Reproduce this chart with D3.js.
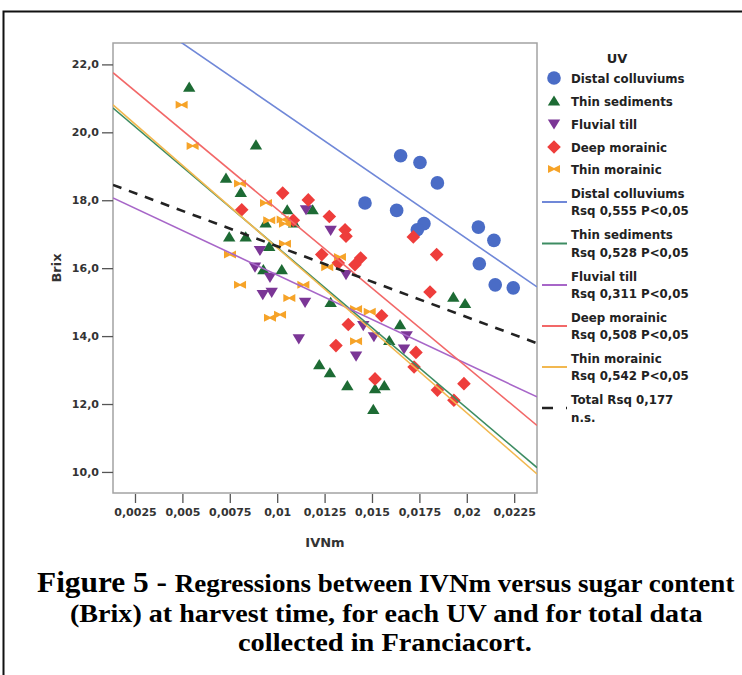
<!DOCTYPE html>
<html>
<head>
<meta charset="utf-8">
<script src="https://cdn.jsdelivr.net/npm/d3@7"></script>
<style>
  body { margin: 0; background: #fff; }
  svg { display: block; }
</style>
</head>
<body>
<svg id="chart" width="742" height="675"></svg>
<script>
// ---- axis ticks ----
const xTicks = [0.0025, 0.005, 0.0075, 0.01, 0.0125, 0.015, 0.0175, 0.02, 0.0225];
const xTickLabels = ["0,0025", "0,005", "0,0075", "0,01", "0,0125", "0,015", "0,0175", "0,02", "0,0225"];
const yTicks = [10, 12, 14, 16, 18, 20, 22];
const yTickLabels = ["10,0", "12,0", "14,0", "16,0", "18,0", "20,0", "22,0"];

// ---- UV groups ----
const groups = ["Distal colluviums", "Thin sediments", "Fluvial till", "Deep morainic", "Thin morainic"];

// IVNm, Brix pairs per UV
const distalColluviums = [
  [0.01651, 19.31], [0.01753, 19.11], [0.01845, 18.51], [0.01463, 17.92],
  [0.01630, 17.70], [0.01774, 17.31], [0.01739, 17.13], [0.02061, 17.21],
  [0.02143, 16.82], [0.02066, 16.13], [0.02150, 15.51], [0.02245, 15.42]
];
const thinSediments = [
  [0.00536, 21.33], [0.00888, 19.63], [0.00730, 18.65], [0.00808, 18.23],
  [0.01053, 17.72], [0.01187, 17.72], [0.00939, 17.33], [0.01089, 17.33],
  [0.00747, 16.92], [0.00834, 16.92], [0.00958, 16.64], [0.00927, 15.96],
  [0.01024, 15.96], [0.01282, 14.99], [0.01929, 15.15], [0.01991, 14.96],
  [0.01648, 14.34], [0.01591, 13.87], [0.01222, 13.16], [0.01278, 12.92],
  [0.01370, 12.54], [0.01516, 12.45], [0.01565, 12.54], [0.01507, 11.84]
];
const fluvialTill = [
  [0.01152, 17.72], [0.01282, 17.11], [0.00909, 16.52], [0.00883, 16.03],
  [0.00962, 15.73], [0.01363, 15.81], [0.00924, 15.22], [0.00971, 15.29],
  [0.01147, 14.99], [0.01114, 13.92], [0.01454, 14.31], [0.01510, 13.98],
  [0.01683, 14.01], [0.01669, 13.62], [0.01416, 13.41]
];
const deepMorainic = [
  [0.01029, 18.21], [0.01164, 18.01], [0.00813, 17.72], [0.01085, 17.41],
  [0.01275, 17.52], [0.01358, 17.13], [0.01363, 16.94], [0.01718, 16.92],
  [0.01235, 16.40], [0.01322, 16.15], [0.01440, 16.30], [0.01410, 16.10],
  [0.01841, 16.40], [0.01806, 15.30], [0.01551, 14.60], [0.01375, 14.34],
  [0.01310, 13.72], [0.01732, 13.52], [0.01722, 13.09], [0.01516, 12.74],
  [0.01985, 12.60], [0.01845, 12.41], [0.01932, 12.11]
];
const thinMorainic = [
  [0.00496, 20.81], [0.00554, 19.60], [0.00804, 18.49], [0.00941, 17.92],
  [0.00958, 17.41], [0.01029, 17.43], [0.01041, 17.31], [0.01041, 16.72],
  [0.00751, 16.40], [0.01331, 16.33], [0.01264, 16.03], [0.00804, 15.51],
  [0.01138, 15.51], [0.01064, 15.12], [0.00962, 14.54], [0.01015, 14.63],
  [0.01416, 14.80], [0.01488, 14.72], [0.01416, 13.85]
];
const groupPoints = [distalColluviums, thinSediments, fluvialTill, deepMorainic, thinMorainic];

// linear fits per UV: Brix = intercept + slope * IVNm
const fitIntercepts = [24.54, 21.35, 18.42, 22.38, 21.46];
const fitSlopes = [-383.5, -473.5, -262.0, -464.5, -486.0];
const fitRsq = ["0,555", "0,528", "0,311", "0,508", "0,542"];
// fit over all data
const totalIntercept = 18.73;
const totalSlope = -208.5;
const totalRsq = "0,177";

// ---- styling ----
const markerFill = ["#4a6cc6", "#1d6b34", "#7b3696", "#ee3d3b", "#f6a328"];
const lineColor  = ["#7088d8", "#3d8c62", "#a766c8", "#f26868", "#f2b850"];
const axisFont = "'DejaVu Sans', Verdana, sans-serif";

const svg = d3.select("#chart");

// outer frame
svg.append("rect")
  .attr("x", 3.5).attr("y", 11.5).attr("width", 800).attr("height", 800)
  .attr("fill", "none").attr("stroke", "#111").attr("stroke-width", 2);

// plot region
const plot = { left: 113, top: 43, right: 537, bottom: 493 };
const x = d3.scaleLinear().domain([0.00134, 0.023703]).range([plot.left, plot.right]);
const y = d3.scaleLinear().domain([9.38, 22.63]).range([plot.bottom, plot.top]);

svg.append("defs").append("clipPath").attr("id", "plotClip")
  .append("rect")
  .attr("x", plot.left).attr("y", plot.top)
  .attr("width", plot.right - plot.left).attr("height", plot.bottom - plot.top);

svg.append("rect")
  .attr("x", plot.left).attr("y", plot.top)
  .attr("width", plot.right - plot.left).attr("height", plot.bottom - plot.top)
  .attr("fill", "#fff").attr("stroke", "#a3a3a3").attr("stroke-width", 1.5);

// x axis
const xAxis = d3.axisBottom(x)
  .tickValues(xTicks)
  .tickFormat((d, i) => xTickLabels[i])
  .tickSize(9).tickPadding(5);
const gx = svg.append("g").attr("transform", `translate(0,${plot.bottom + 1})`).call(xAxis);
gx.select(".domain").remove();
gx.selectAll(".tick line").attr("stroke", "#555").attr("stroke-width", 1.3);
gx.selectAll(".tick text")
  .attr("font-family", axisFont).attr("font-weight", "bold")
  .attr("font-size", 11).attr("fill", "#333");

// y axis
const yAxis = d3.axisLeft(y)
  .tickValues(yTicks)
  .tickFormat((d, i) => yTickLabels[i])
  .tickSize(11).tickPadding(3);
const gy = svg.append("g").attr("transform", `translate(${plot.left},0)`).call(yAxis);
gy.select(".domain").remove();
gy.selectAll(".tick line").attr("stroke", "#555").attr("stroke-width", 1.3);
gy.selectAll(".tick text")
  .attr("font-family", axisFont).attr("font-weight", "bold")
  .attr("font-size", 11).attr("fill", "#333");

// axis titles
svg.append("text")
  .attr("x", (plot.left + plot.right) / 2).attr("y", 547)
  .attr("text-anchor", "middle")
  .attr("font-family", axisFont).attr("font-weight", "bold")
  .attr("font-size", 13).attr("fill", "#333")
  .text("IVNm");
svg.append("text")
  .attr("transform", "translate(61,268) rotate(-90)")
  .attr("text-anchor", "middle")
  .attr("font-family", axisFont).attr("font-weight", "bold")
  .attr("font-size", 13).attr("fill", "#333")
  .text("Brix");

// marker shapes
const markerPath = [
  d3.symbol(d3.symbolCircle, 146)(),
  "M0,-5.6L6.2,4.6L-6.2,4.6Z",
  "M0,5.6L6.2,-4.6L-6.2,-4.6Z",
  "M0,-6.8L6.8,0L0,6.8L-6.8,0Z",
  "M-6,-4L0,-0.9L6,-4L6,4L0,0.9L-6,4Z"
];

// points
const pts = svg.append("g").attr("clip-path", "url(#plotClip)");
groupPoints.forEach((data, gi) => {
  pts.selectAll(null).data(data).join("path")
    .attr("d", markerPath[gi])
    .attr("transform", d => `translate(${x(d[0])},${y(d[1])})`)
    .attr("fill", markerFill[gi]);
});

// fit lines
const lines = svg.append("g").attr("clip-path", "url(#plotClip)");
const xEnds = x.domain();
const lineGen = d3.line().x(d => x(d[0])).y(d => y(d[1]));
groups.forEach((g, gi) => {
  const seg = xEnds.map(v => [v, fitIntercepts[gi] + fitSlopes[gi] * v]);
  lines.append("path").attr("d", lineGen(seg))
    .attr("fill", "none").attr("stroke", lineColor[gi]).attr("stroke-width", 1.6);
});
lines.append("path")
  .attr("d", lineGen(xEnds.map(v => [v, totalIntercept + totalSlope * v])))
  .attr("fill", "none").attr("stroke", "#222").attr("stroke-width", 2.6)
  .attr("stroke-dasharray", "9,8");

// legend
const leg = svg.append("g")
  .attr("font-family", axisFont).attr("font-weight", "bold").attr("fill", "#222");
leg.append("text").attr("x", 617).attr("y", 63).attr("text-anchor", "middle")
  .attr("font-size", 13).text("UV");
const markerRows = [78, 101, 124, 147, 169];
groups.forEach((g, gi) => {
  leg.append("path").attr("d", markerPath[gi])
    .attr("transform", `translate(554,${markerRows[gi]})`)
    .attr("fill", markerFill[gi]);
  leg.append("text").attr("x", 571).attr("y", markerRows[gi] + 4.5)
    .attr("font-size", 11.8).text(g);
});
const lineRows = [193, 234.5, 276, 317, 358];
groups.forEach((g, gi) => {
  const r = lineRows[gi];
  leg.append("line").attr("x1", 542).attr("x2", 567)
    .attr("y1", r + 9).attr("y2", r + 9)
    .attr("stroke", lineColor[gi]).attr("stroke-width", 2);
  leg.append("text").attr("x", 571).attr("y", r + 4.5).attr("font-size", 11.8).text(g);
  leg.append("text").attr("x", 571).attr("y", r + 22).attr("font-size", 11.8)
    .text(`Rsq ${fitRsq[gi]} P<0,05`);
});
leg.append("line").attr("x1", 542).attr("x2", 567).attr("y1", 408).attr("y2", 408)
  .attr("stroke", "#222").attr("stroke-width", 2.4).attr("stroke-dasharray", "11,13");
leg.append("text").attr("x", 571).attr("y", 403.5).attr("font-size", 11.8)
  .text(`Total Rsq ${totalRsq}`);
leg.append("text").attr("x", 571).attr("y", 422).attr("font-size", 11.8).text("n.s.");

// caption
const captionFont = "'Liberation Serif', 'Times New Roman', serif";
const captionLines = [
  { parts: [["Figure 5 - ", 29], ["Regressions between IVNm versus sugar content", 25]], left: 37, right: 735, base: 592 },
  { parts: [["(Brix) at harvest time, for each UV and for total data", 25]], left: 70, right: 703, base: 622 },
  { parts: [["collected in Franciacort.", 25]], left: 238, right: 532, base: 651 }
];
captionLines.forEach(cl => {
  const t = svg.append("text")
    .attr("font-family", captionFont).attr("font-weight", "bold")
    .attr("fill", "#000").attr("xml:space", "preserve");
  cl.parts.forEach(p => t.append("tspan").attr("font-size", p[1]).text(p[0]));
  const w = t.node().getComputedTextLength();
  const sx = (cl.right - cl.left) / w;
  t.attr("transform", `translate(${cl.left},${cl.base}) scale(${sx},1)`);
});
</script>
</body>
</html>
